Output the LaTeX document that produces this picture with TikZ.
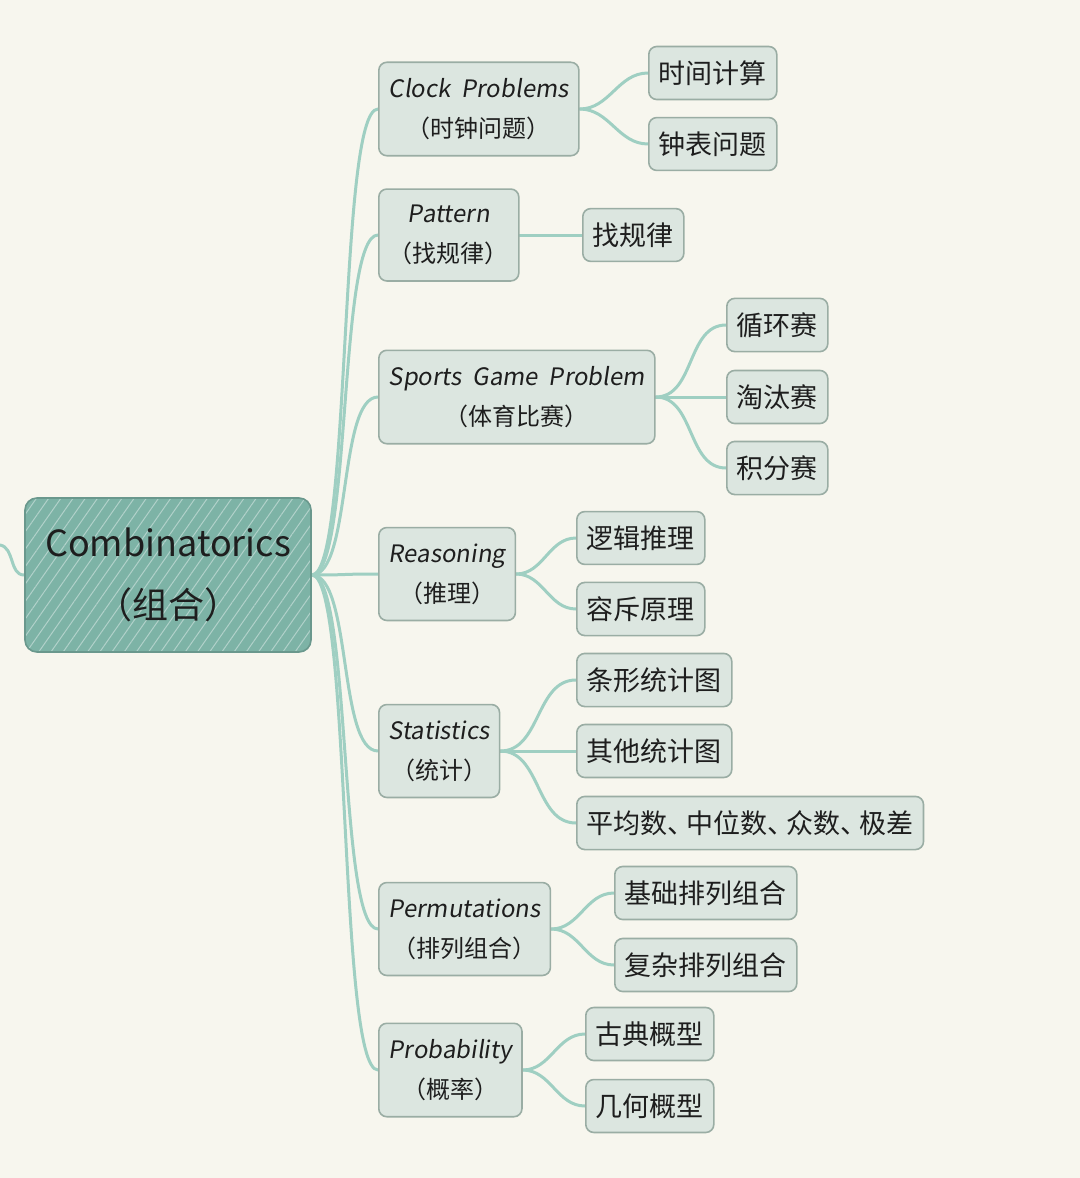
\documentclass[tikz,border=0pt]{standalone}
\usepackage{fontspec}
\setmainfont{Noto Sans CJK SC}
\newfontfamily\handfont[FakeSlant=0.15]{Noto Sans CJK SC}
\usetikzlibrary{patterns.meta,backgrounds}

\definecolor{paper}{HTML}{F7F6EE}
\definecolor{boxfill}{HTML}{DCE6E0}
\definecolor{boxline}{HTML}{9AADA4}
\definecolor{rootfill}{HTML}{7DB3A6}
\definecolor{branchcol}{HTML}{9FCFC2}
\definecolor{inkcol}{HTML}{1E1E1E}

\tikzset{
  topicbox/.style={draw=boxline,fill=boxfill,rounded corners=4pt,line width=0.8pt,
    align=center,text=inkcol,font=\fontsize{12}{20}\selectfont,
    inner xsep=5pt,inner ysep=8pt,anchor=west},
  leafbox/.style={draw=boxline,fill=boxfill,rounded corners=4pt,line width=0.8pt,
    text=inkcol,font=\fontsize{13.5}{16}\selectfont,
    inner xsep=5pt,inner ysep=7pt,anchor=west},
  rootbox/.style={draw=rootfill!85!black,preaction={fill=rootfill},
    pattern={Lines[angle=55,distance=5pt,line width=0.5pt]},pattern color=white!40!rootfill,
    rounded corners=6pt,line width=0.8pt,align=center,text=inkcol,
    font=\fontsize{18}{31}\selectfont,minimum width=143pt,minimum height=77pt},
  branch/.style={draw=branchcol,line width=1.5pt,line cap=round},
  trunk/.style={branch,out=0,in=180,out distance=20pt,in distance=20pt}
}

\begin{document}
\begin{tikzpicture}[x=0.5pt,y=-0.5pt]
\begin{scope}[on background layer]
\fill[paper] (0,0) rectangle (1080,1178);
\end{scope}
\useasboundingbox (0,0) rectangle (1080,1178);

% root
\node[rootbox] (root) at (168,575) {Combinatorics\\（组合）};
\coordinate (parentIn) at (0,545);

% topics
\node[topicbox] (clockProblems) at (378,109) {{\handfont Clock\ \ Problems}\\（时钟问题）};
\node[topicbox] (pattern) at (378,235) {{\handfont Pattern}\\（找规律）};
\node[topicbox] (sportsGame) at (378,397) {{\handfont Sports\ \ Game\ \ Problem}\\（体育比赛）};
\node[topicbox] (reasoning) at (378,574) {{\handfont Reasoning}\\（推理）};
\node[topicbox] (statistics) at (378,751) {{\handfont Statistics}\\（统计）};
\node[topicbox] (permutations) at (378,929) {{\handfont Permutations}\\（排列组合）};
\node[topicbox] (probability) at (378,1070) {{\handfont Probability}\\（概率）};

% leaves
\node[leafbox] (timeCalc) at (648,73) {时间计算};
\node[leafbox] (clockFace) at (648,144) {钟表问题};
\node[leafbox] (findRule) at (582,235) {找规律};
\node[leafbox] (roundRobin) at (726,325) {循环赛};
\node[leafbox] (knockout) at (726,397) {淘汰赛};
\node[leafbox] (points) at (726,468) {积分赛};
\node[leafbox] (logic) at (576,538) {逻辑推理};
\node[leafbox] (inclusion) at (576,609) {容斥原理};
\node[leafbox] (barChart) at (576,680) {条形统计图};
\node[leafbox] (otherChart) at (576,751) {其他统计图};
\node[leafbox] (averages) at (576,823) {平均数、\kern-0.3em中位数、\kern-0.3em众数、\kern-0.3em极差};
\node[leafbox] (basicPerm) at (614,893) {基础排列组合};
\node[leafbox] (complexPerm) at (614,965) {复杂排列组合};
\node[leafbox] (classical) at (585,1034) {古典概型};
\node[leafbox] (geometric) at (585,1106) {几何概型};

% connectors
\begin{scope}[on background layer]
\draw[branch] (parentIn) to[out=-10,in=180] (root.west);
\foreach \t in {clockProblems,pattern,sportsGame,reasoning,statistics,permutations,probability}
  \draw[trunk] (root.east) to (\t.west);
\draw[branch] (clockProblems.east) to[out=0,in=180] (timeCalc.west);
\draw[branch] (clockProblems.east) to[out=0,in=180] (clockFace.west);
\draw[branch] (pattern.east) to[out=0,in=180] (findRule.west);
\foreach \t in {roundRobin,knockout,points}
  \draw[branch] (sportsGame.east) to[out=0,in=180] (\t.west);
\foreach \t in {logic,inclusion}
  \draw[branch] (reasoning.east) to[out=0,in=180] (\t.west);
\foreach \t in {barChart,otherChart,averages}
  \draw[branch] (statistics.east) to[out=0,in=180] (\t.west);
\foreach \t in {basicPerm,complexPerm}
  \draw[branch] (permutations.east) to[out=0,in=180] (\t.west);
\foreach \t in {classical,geometric}
  \draw[branch] (probability.east) to[out=0,in=180] (\t.west);
\end{scope}

\end{tikzpicture}
\end{document}
